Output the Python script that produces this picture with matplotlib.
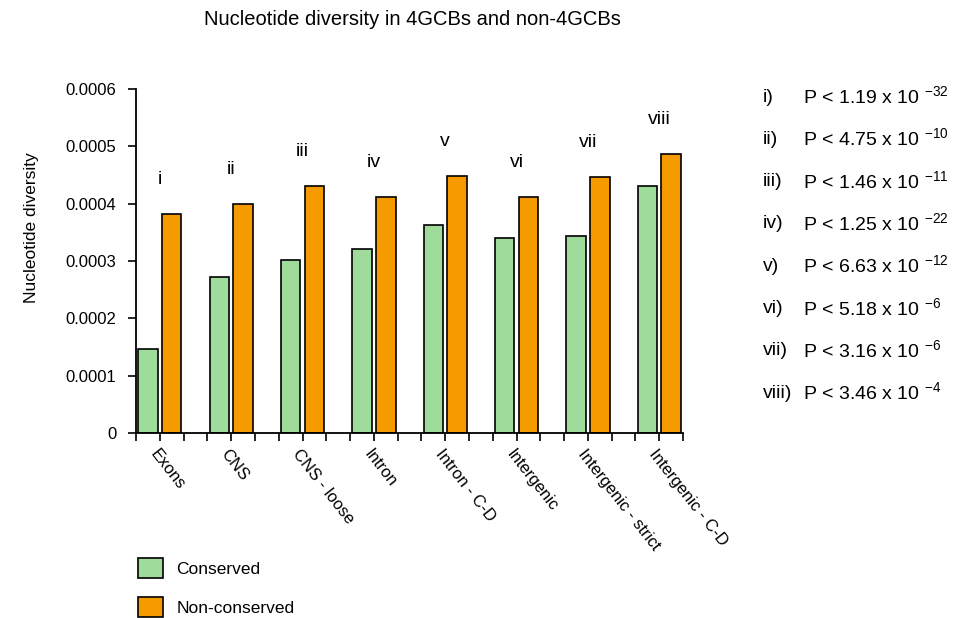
import numpy as np
import matplotlib
matplotlib.use("Agg")
import matplotlib.pyplot as plt
from matplotlib.transforms import blended_transform_factory

plt.rcParams["font.family"] = ["Liberation Sans Narrow", "Liberation Sans", "DejaVu Sans"]
plt.rcParams["axes.unicode_minus"] = False

# nucleotide diversity per region class
categories = ["Exons", "CNS", "CNS - loose", "Intron", "Intron - C-D",
              "Intergenic", "Intergenic - strict", "Intergenic - C-D"]
conserved = [0.000147, 0.000272, 0.000302, 0.000321, 0.000362, 0.000340, 0.000344, 0.000431]
non_conserved = [0.000382, 0.000400, 0.000431, 0.000411, 0.000449, 0.000411, 0.000446, 0.000487]
numerals = ["i", "ii", "iii", "iv", "v", "vi", "vii", "viii"]
p_mant = ["1.19", "4.75", "1.46", "1.25", "6.63", "5.18", "3.16", "3.46"]
p_exp = ["-32", "-10", "-11", "-22", "-12", "-6", "-6", "-4"]
y_ticks = [0, 0.0001, 0.0002, 0.0003, 0.0004, 0.0005, 0.0006]

green = "#9FDB9B"
orange = "#F59B00"

fig = plt.figure(figsize=(9.73, 6.18), dpi=100)
ax = fig.add_axes([0.1398, 0.2994, 0.5622, 0.5566])

# three slots per group: conserved, non-conserved, gap
idx = np.arange(len(categories)) * 3
ax.bar(idx + 0.5, conserved, width=0.82, color=green, edgecolor="black", linewidth=1.2,
       label="Conserved", zorder=2)
ax.bar(idx + 1.5, non_conserved, width=0.82, color=orange, edgecolor="black", linewidth=1.2,
       label="Non-conserved", zorder=2)

ax.set_xlim(0, len(categories) * 3 - 1)
ax.set_ylim(0, 0.0006)
ax.set_yticks(y_ticks)
ax.set_yticklabels(["0" if v == 0 else f"{v:.4f}" for v in y_ticks], fontsize=12)
ax.set_xticks(np.arange(0, len(categories) * 3))
ax.set_xticklabels([])
ax.tick_params(axis="both", direction="out", length=6, width=1.2, color="black")
ax.tick_params(axis="y", pad=8)
for s in ["top", "right"]:
    ax.spines[s].set_visible(False)
for s in ["left", "bottom"]:
    ax.spines[s].set_linewidth(1.3)

ax.set_ylabel("Nucleotide diversity", fontsize=12.5)
ax.yaxis.set_label_coords(-0.177, 0.596)

# rotated category labels hanging from the middle tick of each group
trans = blended_transform_factory(ax.transData, ax.transAxes)
for i, c in zip(idx, categories):
    ax.text(i + 0.95, -0.04, c, transform=trans, rotation=-52, rotation_mode="anchor",
            ha="left", va="top", fontsize=12)

# roman numerals over each group
for i, n, v in zip(idx, numerals, non_conserved):
    ax.text(i + 1, v + 0.00006, n, ha="center", va="center", fontsize=14)

fig.text(0.424, 0.968, "Nucleotide diversity in 4GCBs and non-4GCBs", ha="center", va="center",
         fontsize=14.5)

# p-value list on the right
y0, dy = 1 - 97 / 618, 42.3 / 618
for k, (n, m, e) in enumerate(zip(numerals, p_mant, p_exp)):
    y = y0 - k * dy
    fig.text(0.784, y, n + ")", ha="left", va="center", fontsize=14,
             family=["Liberation Sans", "DejaVu Sans"])
    fig.text(0.825, y, "P < " + m + " x 10 $^{\\mathregular{" + e + "}}$", ha="left", va="center",
             fontsize=14, family=["Liberation Sans", "DejaVu Sans"])

fig.legend(loc="upper left", bbox_to_anchor=(0.135, 0.108), frameon=False, fontsize=12.5,
           handlelength=1.4, handleheight=1.4, labelspacing=1.1, handletextpad=0.8,
           borderaxespad=0)

fig.savefig("out.png", dpi=100)
